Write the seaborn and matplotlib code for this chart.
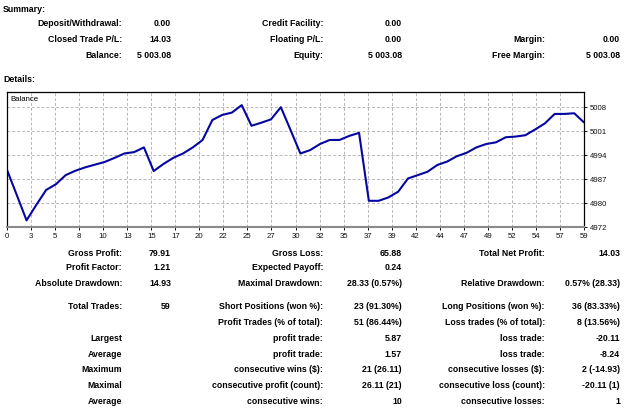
import numpy as np
import pandas as pd
import seaborn as sns
import matplotlib.pyplot as plt

# balance after each closed trade (trade 0 = start)
balance = [4989.05, 4981.6, 4974.12, 4978.7, 4983.1, 4984.8, 4987.5, 4988.8, 4989.8, 4990.6,
           4991.4, 4992.6, 4993.9, 4994.3, 4995.7, 4988.7, 4990.8, 4992.6, 4993.9, 4995.7,
           4997.9, 5003.8, 5005.3, 5006.0, 5008.2, 5002.1, 5003.0, 5004.0, 5007.6, 5000.8,
           4993.9, 4994.9, 4996.7, 4997.9, 4997.9, 4999.1, 5000.0, 4979.9, 4979.9, 4980.9,
           4982.6, 4986.5, 4987.5, 4988.5, 4990.5, 4991.5, 4993.1, 4994.1, 4995.7, 4996.7,
           4997.2, 4998.7, 4998.9, 4999.3, 5001.0, 5002.8, 5005.6, 5005.6, 5005.8, 5003.08]
trades = list(range(len(balance)))

x_labels = ['0', '3', '5', '8', '10', '13', '15', '17', '20', '22', '25', '27', '30',
            '32', '35', '37', '39', '42', '44', '47', '49', '52', '54', '57', '59']
y_labels = ['4972', '4980', '4987', '4994', '5001', '5008']

summary_rows = [
    ['Deposit/Withdrawal:', '0.00', 'Credit Facility:', '0.00', '', ''],
    ['Closed Trade P/L:', '14.03', 'Floating P/L:', '0.00', 'Margin:', '0.00'],
    ['Balance:', '5 003.08', 'Equity:', '5 003.08', 'Free Margin:', '5 003.08'],
]
details_rows = [
    ['Gross Profit:', '79.91', 'Gross Loss:', '65.88', 'Total Net Profit:', '14.03'],
    ['Profit Factor:', '1.21', 'Expected Payoff:', '0.24', '', ''],
    ['Absolute Drawdown:', '14.93', 'Maximal Drawdown:', '28.33 (0.57%)', 'Relative Drawdown:', '0.57% (28.33)'],
    ['Total Trades:', '59', 'Short Positions (won %):', '23 (91.30%)', 'Long Positions (won %):', '36 (83.33%)'],
    ['', '', 'Profit Trades (% of total):', '51 (86.44%)', 'Loss trades (% of total):', '8 (13.56%)'],
    ['Largest', '', 'profit trade:', '5.87', 'loss trade:', '-20.11'],
    ['Average', '', 'profit trade:', '1.57', 'loss trade:', '-8.24'],
    ['Maximum', '', 'consecutive wins ($):', '21 (26.11)', 'consecutive losses ($):', '2 (-14.93)'],
    ['Maximal', '', 'consecutive profit (count):', '26.11 (21)', 'consecutive loss (count):', '-20.11 (1)'],
    ['Average', '', 'consecutive wins:', '10', 'consecutive losses:', '1'],
]

sns.set_style("white")
plt.rcParams['font.family'] = ['Liberation Sans', 'DejaVu Sans']

W, H = 625, 409
fig = plt.figure(figsize=(W / 100, H / 100), dpi=100)

def put(x, y, s, ha='right', size=6.3, weight='bold'):
    fig.text(x / W, 1 - y / H, s, ha=ha, va='center', fontsize=size,
             fontweight=weight, color='black')

col_x = [122, 171, 323, 402, 545, 620]

put(3, 9, 'Summary:', ha='left')
for row, y in zip(summary_rows, [24, 40, 55]):
    for s, x in zip(row, col_x):
        if s:
            put(x, y, s)
put(3, 79, 'Details:', ha='left')

row_y = [253, 268, 284, 306.5, 322.5, 338.5, 354.5, 370, 386, 401.5]
for row, y in zip(details_rows, row_y):
    for s, x in zip(row, col_x):
        if s:
            put(x, y, s)

# chart
y_lo, y_step = 4972.15, 7.1
ax = fig.add_axes([7 / W, 1 - 227 / H, 577 / W, 135 / H])
df = pd.DataFrame({'trade': trades, 'balance': balance})
sns.lineplot(data=df, x='trade', y='balance', ax=ax, color='#0606a0', linewidth=1.5)

ax.set_xlim(0, 59)
ax.set_ylim(y_lo, y_lo + 135 / 24 * y_step)
ax.set_xticks(np.linspace(0, 59, len(x_labels)))
ax.set_xticklabels(x_labels)
ax.set_yticks([y_lo + y_step * k for k in range(len(y_labels))])
ax.set_yticklabels(y_labels)
ax.yaxis.tick_right()
ax.tick_params(axis='both', labelsize=5.6, length=2.5, width=0.7, pad=1.5,
               direction='out', colors='#111111')
ax.tick_params(axis='x', bottom=True)
ax.tick_params(axis='y', right=True)
ax.set_xlabel('')
ax.set_ylabel('')
ax.grid(True, linestyle=(0, (3, 2)), color='#b8b8b8', linewidth=0.7)
for sp in ax.spines.values():
    sp.set_color('black')
    sp.set_linewidth(0.9)
ax.spines['bottom'].set_color('#8a8a8a')
ax.spines['bottom'].set_linewidth(1.5)
ax.text(0.005, 0.97, 'Balance', transform=ax.transAxes, ha='left', va='top',
        fontsize=5.6, color='black')

plt.savefig('out.png', dpi=100)
